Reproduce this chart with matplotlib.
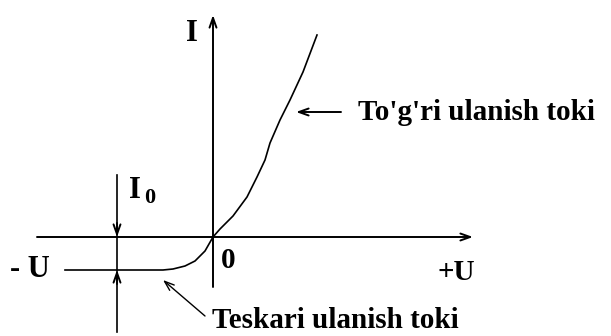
import matplotlib
matplotlib.use("Agg")
import matplotlib.pyplot as plt

# diode I-V curve (origin = axes crossing)
u_curve = [-148, -50, -40, -28, -18, -8, 0, 7, 20, 34, 44, 52, 57, 67, 77, 90, 104]
i_curve = [-33, -33, -32, -29, -24, -14, 0, 8, 21, 40, 60, 77, 94, 117, 137, 165, 202]

u_axis = [-176, 260]
i_axis = [-50, 222]
i0_line_x = -96
i0_line = [62, -95]
i_reverse = -33

font = {"family": ["Liberation Serif", "DejaVu Serif"], "fontweight": "bold", "color": "black"}

fig = plt.figure(figsize=(6.11, 3.36), dpi=100)
ax = fig.add_axes([0, 0, 1, 1])
ax.set_xlim(-213, 398)
ax.set_ylim(-99, 237)
ax.axis("off")

head = dict(arrowstyle="->,head_length=0.7,head_width=0.25", color="black", lw=1.4,
            shrinkA=0, shrinkB=0)

# axes with arrows
ax.annotate("", xy=(u_axis[1], 0), xytext=(u_axis[0], 0), arrowprops=head)
ax.annotate("", xy=(0, i_axis[1]), xytext=(0, i_axis[0]), arrowprops=head)

# characteristic
ax.plot(u_curve, i_curve, color="black", lw=1.2)

# I0 marker
ax.plot([i0_line_x, i0_line_x], i0_line, color="black", lw=1.2)
ax.annotate("", xy=(i0_line_x, 0), xytext=(i0_line_x, 14), arrowprops=head)
ax.annotate("", xy=(i0_line_x, i_reverse), xytext=(i0_line_x, i_reverse - 14), arrowprops=head)

# pointers to the text labels
ax.annotate("", xy=(83, 125), xytext=(128, 125), arrowprops=head)
ax.annotate("", xy=(-50, -43), xytext=(-8, -79),
            arrowprops=dict(arrowstyle="->,head_length=0.7,head_width=0.25", color="black",
                            lw=1.0, shrinkA=0, shrinkB=0))

ax.text(-21, 196, "I", fontsize=22, ha="center", va="baseline", **font)
ax.text(-78, 39, "I", fontsize=22, ha="center", va="baseline", **font)
ax.text(-63, 34, "0", fontsize=16, ha="center", va="baseline", **font)
ax.text(-203, -40, "- U", fontsize=22, ha="left", va="baseline", **font)
ax.text(15, -31, "0", fontsize=21, ha="center", va="baseline", **font)
ax.text(243, -43, "+U", fontsize=21, ha="center", va="baseline", **font)
ax.text(145, 117, "To'g'ri ulanish toki", fontsize=21, ha="left", va="baseline", **font)
ax.text(-1, -91, "Teskari ulanish toki", fontsize=21, ha="left", va="baseline", **font)

fig.savefig("out.png", dpi=100)
